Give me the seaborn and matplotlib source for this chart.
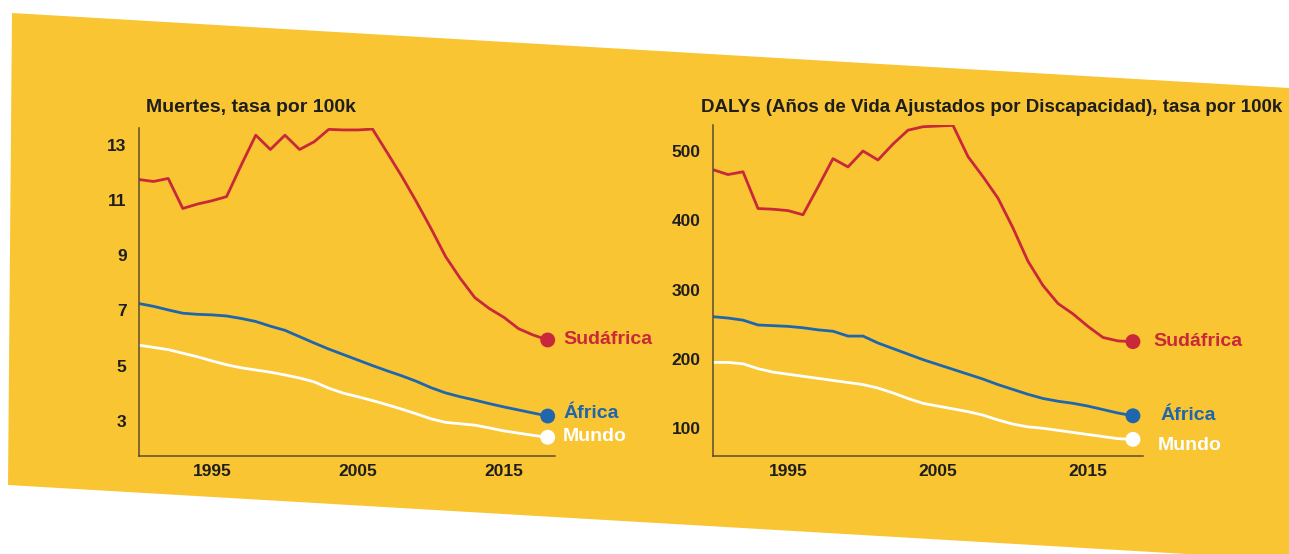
import matplotlib
matplotlib.use("Agg")
import matplotlib.pyplot as plt
from matplotlib.patches import Polygon
import seaborn as sns
import pandas as pd

# ---------------- data ----------------
years = list(range(1990, 2019))
regions = ["Sudáfrica", "África", "Mundo"]

muertes_sudafrica = [11.75, 11.68, 11.79, 10.70, 10.86, 10.98, 11.13, 12.27, 13.36, 12.84,
                     13.36, 12.84, 13.12, 13.57, 13.55, 13.55, 13.58, 12.73, 11.87, 10.95,
                     9.98, 8.96, 8.17, 7.47, 7.07, 6.75, 6.34, 6.11, 5.93]
muertes_africa = [7.25, 7.15, 7.02, 6.90, 6.86, 6.84, 6.80, 6.71, 6.60, 6.43,
                  6.28, 6.05, 5.82, 5.60, 5.40, 5.20, 5.00, 4.81, 4.63, 4.43,
                  4.20, 4.01, 3.87, 3.75, 3.62, 3.50, 3.39, 3.28, 3.17]
muertes_mundo = [5.74, 5.66, 5.58, 5.45, 5.32, 5.17, 5.03, 4.92, 4.84, 4.76,
                 4.66, 4.55, 4.41, 4.18, 4.00, 3.87, 3.73, 3.58, 3.42, 3.25,
                 3.07, 2.94, 2.89, 2.84, 2.74, 2.63, 2.55, 2.47, 2.40]

dalys_sudafrica = [473, 466, 470, 417, 416, 414, 408, 448, 489, 477,
                   500, 487, 510, 530, 535, 536, 537, 492, 463, 432,
                   389, 341, 306, 280, 265, 247, 231, 226, 225]
dalys_africa = [261, 259, 256, 249, 248, 247, 245, 242, 240, 233,
                233, 223, 215, 207, 199, 192, 185, 178, 171, 163,
                156, 149, 143, 139, 136, 132, 127, 122, 118]
dalys_mundo = [195, 195, 193, 186, 181, 178, 175, 172, 169, 166,
               163, 158, 151, 143, 136, 132, 128, 124, 119, 112,
               106, 102, 100, 97, 94, 91, 88, 85, 84]

titulo_muertes = "Muertes, tasa por 100k"
titulo_dalys = "DALYs (Años de Vida Ajustados por Discapacidad), tasa por 100k"
yticks_muertes = [3, 5, 7, 9, 11, 13]
yticks_dalys = [100, 200, 300, 400, 500]
xticks = [1995, 2005, 2015]

# ---------------- style ----------------
YELLOW = "#F9C532"
RED = "#C9283A"
BLUE = "#1F66AC"
WHITE = "#FFFFFF"
AXIS = "#5c4c30"
TXT = "#1e1e1e"
colors = {"Sudáfrica": RED, "África": BLUE, "Mundo": WHITE}

sns.set_theme(style="white")
plt.rcParams["font.family"] = ["Liberation Sans", "DejaVu Sans"]

W, H = 1289, 554
fig = plt.figure(figsize=(W / 100, H / 100), dpi=100, facecolor="white")

# skewed yellow sheet (background)
def fp(x, y):
    return (x / W, 1 - y / H)

sheet = Polygon([fp(12, 13), fp(1289, 88), fp(1289, 560), fp(8, 485)],
                closed=True, transform=fig.transFigure, facecolor=YELLOW,
                edgecolor="none", zorder=-10)
fig.patches.append(sheet)


def make_df(a, b, c):
    rows = []
    for reg, vals in zip(regions, [a, b, c]):
        for yr, v in zip(years, vals):
            rows.append({"year": yr, "value": v, "region": reg})
    return pd.DataFrame(rows)


def draw(rect, df, ylim, yticks, xlim, label_offsets):
    ax = fig.add_axes(rect)
    ax.set_zorder(1)
    ax.set_facecolor("none")
    ax.patch.set_alpha(0)
    sns.lineplot(data=df, x="year", y="value", hue="region", palette=colors,
                 hue_order=regions, linewidth=2.0, legend=False, ax=ax)
    last = df[df["year"] == years[-1]]
    sns.scatterplot(data=last, x="year", y="value", hue="region", palette=colors,
                    hue_order=regions, s=115, edgecolor="none", legend=False,
                    ax=ax, zorder=5, clip_on=False)
    for reg in regions:
        v = last[last["region"] == reg]["value"].iloc[0]
        dx, dy = label_offsets[reg]
        ax.annotate(reg, (years[-1], v), xytext=(dx, dy), textcoords="offset points",
                    ha="left", va="center", color=colors[reg], fontsize=14,
                    fontweight="bold", annotation_clip=False)
    ax.set_xlim(*xlim)
    ax.set_ylim(*ylim)
    ax.set_xticks(xticks)
    ax.set_yticks(yticks)
    ax.set_xticklabels([str(t) for t in xticks])
    ax.set_yticklabels([str(t) for t in yticks])
    ax.set_xlabel("")
    ax.set_ylabel("")
    for s in ["top", "right"]:
        ax.spines[s].set_visible(False)
    for s in ["left", "bottom"]:
        ax.spines[s].set_color(AXIS)
        ax.spines[s].set_linewidth(1.1)
    ax.tick_params(axis="both", length=0, colors=TXT, labelsize=12.5)
    ax.tick_params(axis="y", pad=9)
    ax.tick_params(axis="x", pad=6)
    for lab in ax.get_xticklabels() + ax.get_yticklabels():
        lab.set_fontweight("bold")
    ax.grid(False)
    return ax


df_m = make_df(muertes_sudafrica, muertes_africa, muertes_mundo)
df_d = make_df(dalys_sudafrica, dalys_africa, dalys_mundo)

draw([139 / W, 1 - 456 / H, 416 / W, 328 / H], df_m, (1.72, 13.62),
     yticks_muertes, (1990, 2018.5),
     {"Sudáfrica": (11, 0), "África": (11, 2), "Mundo": (11, 0.5)})
draw([713 / W, 1 - 456 / H, 430 / W, 331 / H], df_d, (60, 537.5),
     yticks_dalys, (1990, 2018.67),
     {"Sudáfrica": (14.5, 0), "África": (19.5, 0), "Mundo": (17.5, -4.5)})

fig.text(146 / W, 1 - 108 / H, titulo_muertes, ha="left", va="center",
         fontsize=14, fontweight="bold", color=TXT)
fig.text(701 / W, 1 - 108 / H, titulo_dalys, ha="left", va="center",
         fontsize=13.5, fontweight="bold", color=TXT)

fig.savefig("out.png", dpi=100, facecolor="white")
